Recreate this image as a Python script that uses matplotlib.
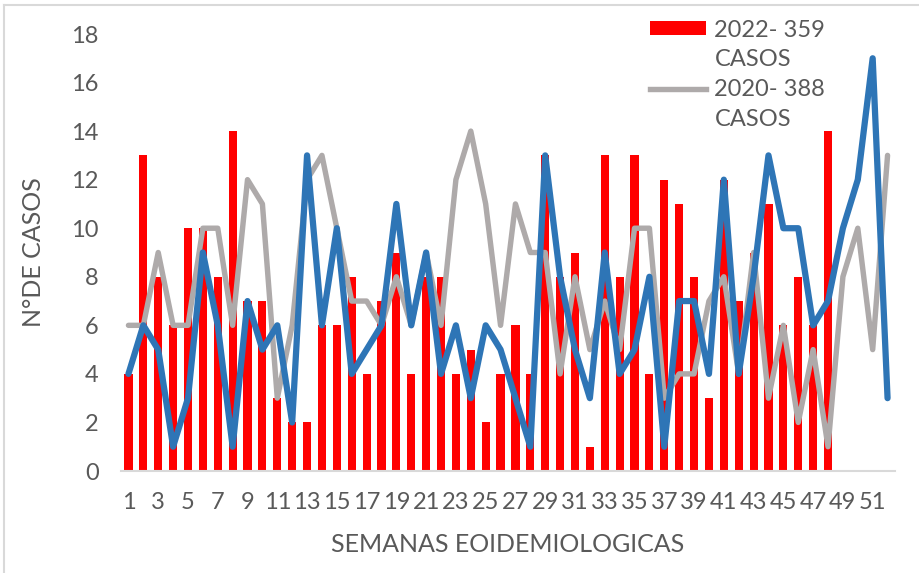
import matplotlib
matplotlib.use("Agg")
import matplotlib.pyplot as plt
from matplotlib.patches import Patch
from matplotlib.lines import Line2D

plt.rcParams['font.family'] = ['Lato', 'DejaVu Sans']

# semanas epidemiologicas
semanas = list(range(1, 53))

# 2022 (barras rojas, hasta semana 48)
casos_2022 = [4, 13, 8, 6, 10, 10, 8, 14, 7, 7, 3, 2,
              2, 6, 6, 8, 4, 7, 9, 4, 8, 8, 4, 5,
              2, 4, 6, 4, 13, 8, 9, 1, 13, 8, 13, 4,
              12, 11, 8, 3, 12, 7, 9, 11, 6, 8, 6, 14]

# 2020 (linea gris)
casos_2020 = [6, 6, 9, 6, 6, 10, 10, 6, 12, 11, 3, 6, 12,
              13, 10, 7, 7, 6, 8, 6, 9, 6, 12, 14, 11, 6,
              11, 9, 9, 4, 8, 5, 7, 5, 10, 10, 3, 4, 4,
              7, 8, 4, 9, 3, 6, 2, 5, 1, 8, 10, 5, 13]

# 2021 (linea azul)
casos_2021 = [4, 6, 5, 1, 3, 9, 6, 1, 7, 5, 6, 2, 13,
              6, 10, 4, 5, 6, 11, 6, 9, 4, 6, 3, 6, 5,
              3, 1, 13, 8, 5, 3, 9, 4, 5, 8, 1, 7, 7,
              4, 12, 4, 8, 13, 10, 10, 6, 7, 10, 12, 17, 3]

etiquetas_x = [str(s) if s % 2 == 1 else '' for s in semanas]

ROJO = '#FF0000'
GRIS = '#AEAAAA'
AZUL = '#2E75B6'
TEXTO = '#595959'

fig = plt.figure(figsize=(9.19, 5.73), dpi=100)
ax = fig.add_axes([121 / 919, 1 - 471 / 573, 774 / 919, 437 / 573])

ax.bar(semanas[:len(casos_2022)], casos_2022, width=0.55, color=ROJO, zorder=1)
ax.plot(semanas, casos_2020, color=GRIS, lw=3.9, zorder=2,
        solid_joinstyle='round', solid_capstyle='round')
ax.plot(semanas, casos_2021, color=AZUL, lw=4.5, zorder=3,
        solid_joinstyle='round', solid_capstyle='round')

ax.set_xlim(0.5, 52.5)
ax.set_ylim(0, 18)
ax.set_yticks(range(0, 19, 2))
ax.set_xticks(semanas)
ax.set_xticklabels(etiquetas_x)
ax.tick_params(axis='both', length=0, labelsize=17, labelcolor=TEXTO)
ax.tick_params(axis='x', pad=15)
ax.tick_params(axis='y', pad=16)

for lado in ['top', 'right', 'left']:
    ax.spines[lado].set_visible(False)
ax.spines['bottom'].set_color('#D9D9D9')
ax.spines['bottom'].set_linewidth(1.5)

ax.set_ylabel('N°DE CASOS', fontsize=18, color=TEXTO)
ax.yaxis.set_label_coords(-0.098, 0.5)
ax.set_xlabel('SEMANAS EOIDEMIOLOGICAS', fontsize=18, color=TEXTO)
ax.xaxis.set_label_coords(0.5, -0.142)

# leyenda (la serie azul no aparece en la original)
vacio = Patch(facecolor='none', edgecolor='none')
handles = [Patch(facecolor=ROJO, edgecolor='none'), vacio,
           Line2D([], [], color=GRIS, lw=3.9), vacio]
labels = ['2022- 359', 'CASOS', '2020- 388', 'CASOS']
fig.legend(handles, labels, loc='upper left',
           bbox_to_anchor=(633 / 919, 1 - 3 / 573),
           frameon=False, fontsize=17, labelcolor=TEXTO,
           handlelength=2.4, handleheight=0.55, handletextpad=0.35,
           labelspacing=0.38, borderpad=0.2)

# marco gris del grafico
fig.add_artist(Line2D([4 / 919, 4 / 919], [0, 1 - 5 / 573],
                      transform=fig.transFigure, color='#D9D9D9', lw=1.5))
fig.add_artist(Line2D([4 / 919, 1], [1 - 5 / 573, 1 - 5 / 573],
                      transform=fig.transFigure, color='#D9D9D9', lw=1.5))

fig.savefig('out.png', dpi=100)
